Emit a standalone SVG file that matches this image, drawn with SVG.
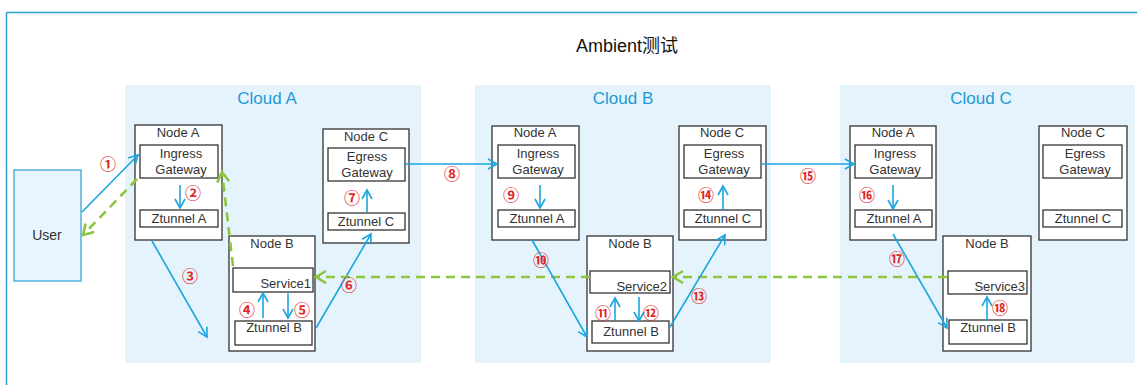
<svg xmlns="http://www.w3.org/2000/svg" width="1137" height="385" viewBox="0 0 1137 385">
<defs>
<style>
.cloud{fill:#e5f4fc;stroke:none}
.ctitle{font-family:"Liberation Sans","Noto Sans",sans-serif;font-size:17px;fill:#1e9ad6;text-anchor:middle}
.node{fill:#ffffff;stroke:#333333;stroke-width:1.3}
.box{fill:#ffffff;stroke:#333333;stroke-width:1.3}
.t{font-family:"Liberation Sans","Noto Sans",sans-serif;font-size:13px;fill:#333333;text-anchor:middle}
.te{font-family:"Liberation Sans","Noto Sans",sans-serif;font-size:13px;fill:#333333;text-anchor:end}
.num{font-family:"Noto Sans CJK SC","DejaVu Sans",sans-serif;font-size:16px;fill:#e02a2a;text-anchor:middle;font-weight:bold}
.blue{stroke:#1ba5e0;stroke-width:1.6;fill:none;marker-end:url(#ab)}
.green{stroke:#8cc63f;stroke-width:2.6;fill:none;stroke-dasharray:9,6;marker-end:url(#ag)}
</style>
<marker id="ab" markerUnits="userSpaceOnUse" markerWidth="14" markerHeight="14" refX="10" refY="6" orient="auto">
<path d="M1,1 L10,6 L1,11" fill="none" stroke="#1ba5e0" stroke-width="1.6"/>
</marker>
<marker id="ag" markerUnits="userSpaceOnUse" markerWidth="16" markerHeight="16" refX="11" refY="7" orient="auto">
<path d="M1,1 L11,7 L1,13" fill="none" stroke="#8cc63f" stroke-width="2.6"/>
</marker>
</defs>
<rect x="0" y="0" width="1137" height="385" fill="#ffffff"/>
<g id="frame">
<line x1="6.5" y1="12.5" x2="1137" y2="12.5" stroke="#2a9fc9" stroke-width="1.5"/>
<line x1="6.5" y1="12.5" x2="6.5" y2="385" stroke="#2a9fc9" stroke-width="1.5"/>
</g>
<text x="627" y="52" font-family="'Liberation Sans','Noto Sans CJK SC',sans-serif" font-size="18" fill="#111" text-anchor="middle">Ambient测试</text>

<g id="cloudA"><rect class="cloud" x="125" y="85" width="296" height="278"/><text class="ctitle" x="267" y="104">Cloud A</text></g>
<g id="cloudB"><rect class="cloud" x="475" y="85" width="296" height="278"/><text class="ctitle" x="623" y="104">Cloud B</text></g>
<g id="cloudC"><rect class="cloud" x="840" y="85" width="295" height="278"/><text class="ctitle" x="981" y="104">Cloud C</text></g>

<g id="user"><rect x="14" y="170" width="67" height="111" fill="#e8f5fc" stroke="#4aaad9" stroke-width="1.4"/><text x="47" y="240" font-family="'Liberation Sans',sans-serif" font-size="14" fill="#333" text-anchor="middle">User</text></g>

<!-- Cloud A -->
<g id="a-nodeA"><rect class="node" x="135" y="125" width="87" height="115"/><text class="t" x="178" y="137">Node A</text>
<rect class="box" x="140" y="145" width="78" height="33"/><text class="t" x="181" y="158">Ingress</text><text class="t" x="181" y="174">Gateway</text>
<rect class="box" x="140" y="210" width="78" height="17"/><text class="t" x="179" y="223">Ztunnel A</text></g>
<g id="a-nodeC"><rect class="node" x="323" y="129" width="86" height="114"/><text class="t" x="366" y="141">Node C</text>
<rect class="box" x="328" y="148" width="77" height="33"/><text class="t" x="367" y="161">Egress</text><text class="t" x="367" y="177">Gateway</text>
<rect class="box" x="328" y="213" width="77" height="17"/><text class="t" x="366" y="226">Ztunnel C</text></g>
<g id="a-nodeB"><rect class="node" x="229" y="236" width="86" height="115"/><text class="t" x="272" y="248">Node B</text>
<rect class="box" x="233" y="268" width="80" height="24"/><text class="te" x="311" y="288">Service1</text>
<rect class="box" x="235" y="321" width="77" height="24"/><text class="t" x="274" y="332">Ztunnel B</text></g>

<!-- Cloud B -->
<g id="b-nodeA"><rect class="node" x="492" y="126" width="87" height="114"/><text class="t" x="535" y="137">Node A</text>
<rect class="box" x="498" y="145" width="77" height="33"/><text class="t" x="538" y="158">Ingress</text><text class="t" x="538" y="174">Gateway</text>
<rect class="box" x="498" y="210" width="77" height="17"/><text class="t" x="537" y="223">Ztunnel A</text></g>
<g id="b-nodeC"><rect class="node" x="679" y="126" width="87" height="114"/><text class="t" x="722" y="137">Node C</text>
<rect class="box" x="684" y="145" width="77" height="33"/><text class="t" x="724" y="158">Egress</text><text class="t" x="724" y="174">Gateway</text>
<rect class="box" x="684" y="210" width="77" height="17"/><text class="t" x="723" y="223">Ztunnel C</text></g>
<g id="b-nodeB"><rect class="node" x="587" y="236" width="86" height="115"/><text class="t" x="630" y="248">Node B</text>
<rect class="box" x="590" y="271" width="80" height="22"/><text class="te" x="667" y="291">Service2</text>
<rect class="box" x="592" y="321" width="77" height="22"/><text class="t" x="631" y="336">Ztunnel B</text></g>

<!-- Cloud C -->
<g id="c-nodeA"><rect class="node" x="850" y="126" width="86" height="114"/><text class="t" x="893" y="137">Node A</text>
<rect class="box" x="855" y="145" width="77" height="33"/><text class="t" x="895" y="158">Ingress</text><text class="t" x="895" y="174">Gateway</text>
<rect class="box" x="855" y="210" width="77" height="17"/><text class="t" x="894" y="223">Ztunnel A</text></g>
<g id="c-nodeC"><rect class="node" x="1039" y="126" width="88" height="114"/><text class="t" x="1083" y="137">Node C</text>
<rect class="box" x="1043" y="145" width="79" height="33"/><text class="t" x="1085" y="158">Egress</text><text class="t" x="1085" y="174">Gateway</text>
<rect class="box" x="1043" y="210" width="79" height="17"/><text class="t" x="1083" y="223">Ztunnel C</text></g>
<g id="c-nodeB"><rect class="node" x="943" y="236" width="88" height="115"/><text class="t" x="987" y="248">Node B</text>
<rect class="box" x="948" y="271" width="79" height="23"/><text class="te" x="1025" y="291">Service3</text>
<rect class="box" x="949" y="320" width="78" height="24"/><text class="t" x="988" y="332">Ztunnel B</text></g>

<g id="connectors">
<line class="blue" x1="82" y1="212" x2="138" y2="155"/>
<line class="green" x1="137" y1="179" x2="83" y2="235"/>
<line class="blue" x1="180" y1="185" x2="180" y2="208"/>
<line class="blue" x1="152" y1="241" x2="207" y2="337"/>
<line class="green" x1="233" y1="266" x2="222" y2="172"/>
<line class="blue" x1="263" y1="318" x2="263" y2="293"/>
<line class="blue" x1="288" y1="293" x2="288" y2="318"/>
<line class="blue" x1="316" y1="328" x2="371" y2="234"/>
<line class="blue" x1="367" y1="212" x2="367" y2="190"/>
<line class="blue" x1="405" y1="164" x2="497" y2="164"/>
<line class="green" x1="590" y1="277" x2="316" y2="277"/>
<line class="green" x1="947" y1="277" x2="673" y2="277"/>
<line class="blue" x1="540" y1="185" x2="540" y2="208"/>
<line class="blue" x1="532" y1="240" x2="587" y2="337"/>
<line class="blue" x1="615" y1="320" x2="615" y2="298"/>
<line class="blue" x1="639" y1="297" x2="639" y2="321"/>
<line class="blue" x1="670" y1="327" x2="725" y2="235"/>
<line class="blue" x1="723" y1="210" x2="723" y2="186"/>
<line class="blue" x1="761" y1="164" x2="854" y2="164"/>
<line class="blue" x1="893" y1="185" x2="893" y2="209"/>
<line class="blue" x1="893" y1="234" x2="947" y2="328"/>
<line class="blue" x1="987" y1="321" x2="987" y2="297"/>
</g>

<g id="labels">
<text class="num" x="108" y="170">①</text>
<text class="num" x="193" y="199">②</text>
<text class="num" x="190" y="282">③</text>
<text class="num" x="247" y="316">④</text>
<text class="num" x="302" y="316">⑤</text>
<text class="num" x="349" y="291">⑥</text>
<text class="num" x="352" y="204">⑦</text>
<text class="num" x="452" y="180">⑧</text>
<text class="num" x="511" y="201">⑨</text>
<text class="num" x="541" y="266">⑩</text>
<text class="num" x="603" y="319">⑪</text>
<text class="num" x="651" y="319">⑫</text>
<text class="num" x="699" y="302">⑬</text>
<text class="num" x="706" y="201">⑭</text>
<text class="num" x="808" y="182">⑮</text>
<text class="num" x="867" y="201">⑯</text>
<text class="num" x="897" y="265">⑰</text>
<text class="num" x="1000" y="314">⑱</text>
</g>
</svg>
